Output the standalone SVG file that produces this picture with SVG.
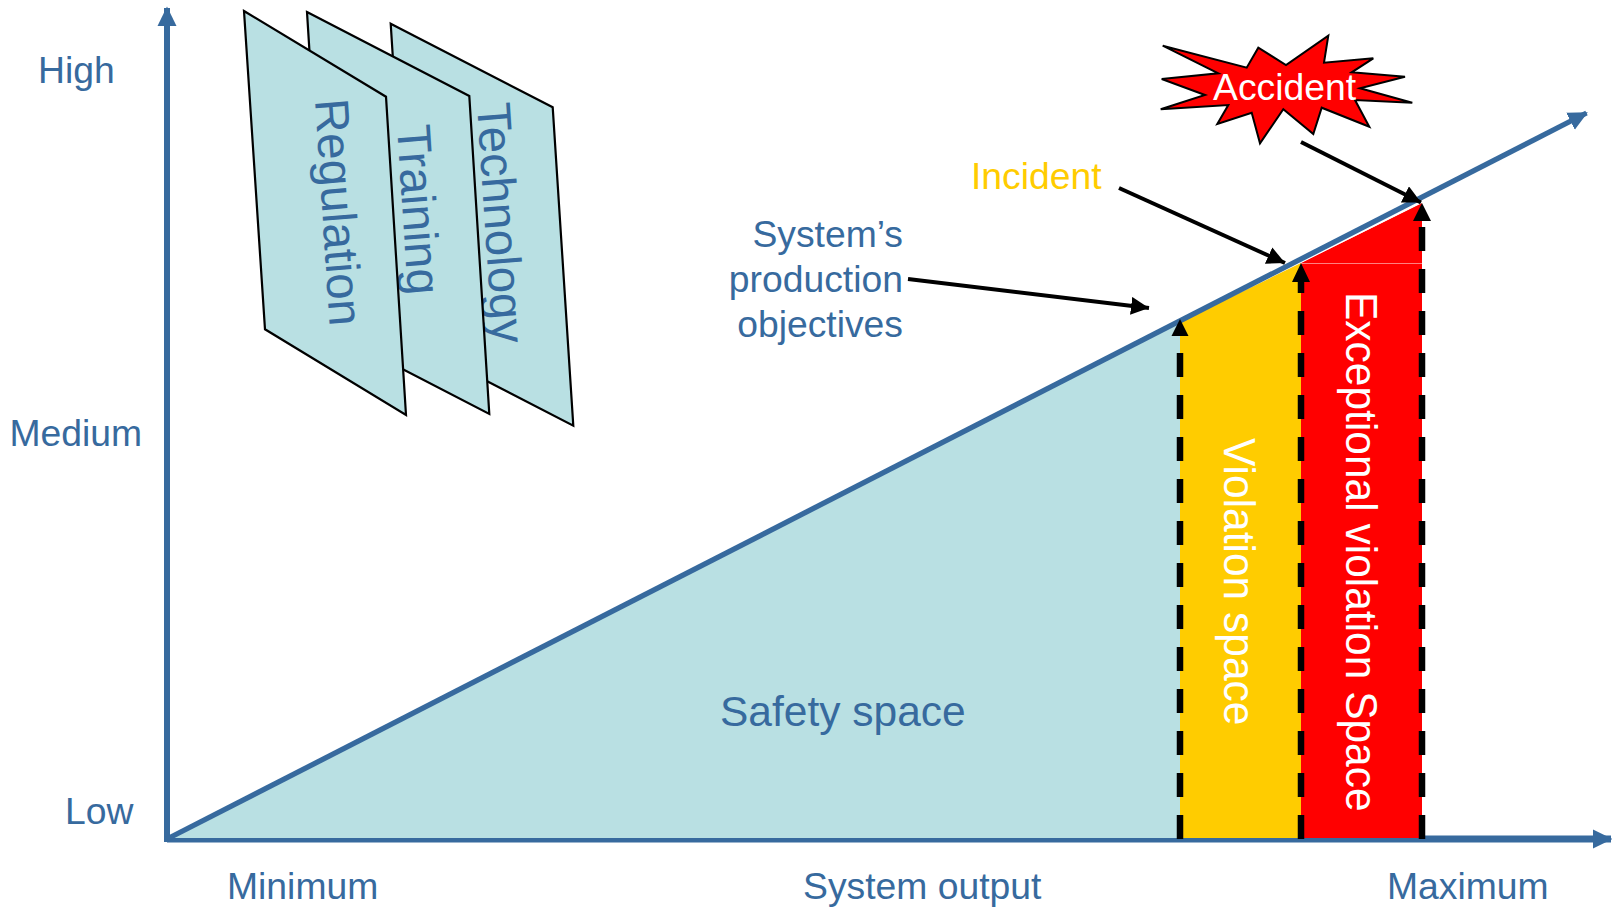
<svg xmlns="http://www.w3.org/2000/svg" width="1612" height="908" viewBox="0 0 1612 908">
<style>
text{font-family:"Liberation Sans",Arial,sans-serif;fill:#376a9e;font-size:37.300px}
.w{fill:#fff}
.big{font-size:42.500px}
.card-t{font-size:47.500px}
.card{fill:#b9e0e3;stroke:#000;stroke-width:2.200}
.axis{fill:none;stroke:#376a9e;stroke-width:6}
.ptr{fill:none;stroke:#000;stroke-width:4}
.dash{fill:none;stroke:#000;stroke-width:6.500;stroke-dasharray:24 18}
</style>
<defs>
<marker id="ah" markerUnits="userSpaceOnUse" markerWidth="21" markerHeight="21" refX="18" refY="10" orient="auto"><path d="M0 0.500L19.500 10L0 19.500Z" fill="#376a9e"/></marker>
<marker id="pt" markerUnits="userSpaceOnUse" markerWidth="20" markerHeight="20" refX="18" refY="9" orient="auto"><path d="M0 0L18 9L0 18Z" fill="#000"/></marker>
</defs>
<g id="axis-x"><path class="axis" d="M167 839H1611" style="stroke-width:7" marker-end="url(#ah)"/></g>
<g id="safety-space"><path d="M167 838L1180 320V838Z" fill="#b9e0e3"/><text x="720" y="726" class="big">Safety space</text></g>
<g id="violation-space"><path d="M1180 322L1301 263V838H1180Z" fill="#fc0"/><text transform="translate(1224 438) rotate(90) scale(1 1.040)" class="w big">Violation space</text></g>
<g id="exceptional-violation-space"><path d="M1301 263L1422 203V838H1301Z" fill="#f00"/><path d="M1301 263.500H1422" stroke="#ff8080" stroke-width="1"/><path d="M1301 262L1422 202" stroke="#fff" stroke-width="1.500"/><text transform="translate(1345.500 292) rotate(90) scale(1 1.040)" class="w big">Exceptional violation Space</text></g>
<g id="technology"><path class="card" d="M390.700 23.700L552.700 107.300L573.300 425.700L411 342Z"/><text transform="matrix(.065 1 -1 .08 477 104)" class="card-t">Technology</text></g>
<g id="training"><path class="card" d="M307 12L469.300 96L489.300 414L327 330Z"/><text transform="matrix(.065 1 -1 .08 397 126)" class="card-t">Training</text></g>
<g id="regulation"><path class="card" d="M244 11L386 96.700L406 415L265 329.300Z"/><text transform="matrix(.065 1 -1 .08 315 100)" class="card-t">Regulation</text></g>
<g id="accident"><path d="M1162.700 45.700L1246.700 67.700L1258.300 47.700L1286 65L1328.300 35.700L1324 62.700L1373.300 58.300L1351.700 72.300L1405 76.700L1360 88.300L1412.300 102.700L1355 100L1369.300 126.700L1321.700 107.700L1313.300 134L1283.300 109.300L1260 143.300L1251.700 112.700L1217.300 124L1228.300 105L1160.700 109.300L1205 95L1161.700 79L1218.300 73.300Z" fill="#f00" stroke="#000" stroke-width="2"/><text x="1213" y="100" class="w">Accident</text></g>
<g id="labels">
<text x="38" y="83">High</text>
<text x="9.500" y="446">Medium</text>
<text x="65" y="824">Low</text>
<text x="227" y="899">Minimum</text>
<text x="803" y="899">System output</text>
<text x="1387" y="899">Maximum</text>
<text x="971" y="189" style="fill:#fc0">Incident</text>
<text x="903" y="247" text-anchor="end">System’s</text>
<text x="903" y="292" text-anchor="end">production</text>
<text x="903" y="337" text-anchor="end">objectives</text>
</g>
<g id="connectors">
<path class="axis" d="M167 842V8" marker-end="url(#ah)"/>
<path class="axis" style="stroke-width:5.300" d="M167 839L1586.500 113" marker-end="url(#ah)"/>
<path class="dash" d="M1180 839V336"/>
<path class="dash" d="M1301 839V282"/>
<path class="dash" d="M1422 839V221"/>
<path d="M1180 319L1188.500 336H1171.500ZM1301 263L1310 282H1292ZM1422 203L1431 221H1413Z" fill="#000"/>
<path class="ptr" d="M1301 142L1421 202.500" marker-end="url(#pt)"/>
<path class="ptr" d="M1119 188L1285 263" marker-end="url(#pt)"/>
<path class="ptr" d="M908 279L1149 308" marker-end="url(#pt)"/>
</g>
</svg>
